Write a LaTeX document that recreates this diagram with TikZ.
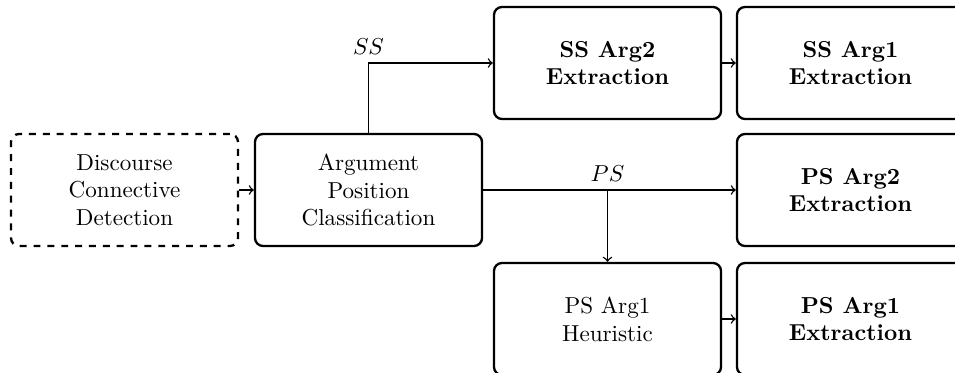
\documentclass[tikz,border=0pt]{standalone}
\begin{document}
\begin{tikzpicture}[x=0.4329pt,y=-0.4329pt,
  stage/.style={draw, line width=1pt, rounded corners=3.5pt, align=center,
    minimum width=98.3pt, minimum height=48.5pt, inner sep=2pt},
  optional/.style={stage, dashed},
  key/.style={stage, font=\bfseries},
  arr/.style={->, line width=0.6pt}]
  \useasboundingbox (0,0) rectangle (955,372);
  \clip (0,0) rectangle (955,372);

  % pipeline stages
  \node[optional] (det) at (124.5,190) {Discourse\\Connective\\Detection};
  \node[stage]    (apc) at (368.5,190) {Argument\\Position\\Classification};
  \node[key]      (ss2) at (607.5,63)  {SS Arg2\\Extraction};
  \node[key]      (ss1) at (850.5,63)  {SS Arg1\\Extraction};
  \node[key]      (ps2) at (850.5,190) {PS Arg2\\Extraction};
  \node[stage]    (heu) at (607.5,319) {PS Arg1\\Heuristic};
  \node[key]      (ps1) at (850.5,319) {PS Arg1\\Extraction};

  % branching points
  \coordinate (sscorner) at (apc.north |- ss2.west);
  \coordinate (psfork)   at (heu.north |- apc.east);

  % connectors
  \draw[arr] (det) -- (apc);
  \draw[arr] (apc.north) -- (sscorner) -- (ss2.west);
  \node[above] (sslabel) at (sscorner) {$SS$};
  \draw[arr] (apc) -- (ps2);
  \node[above] (pslabel) at (psfork) {$PS$};
  \draw[arr] (psfork) -- (heu.north);
  \draw[arr] (ss2) -- (ss1);
  \draw[arr] (heu) -- (ps1);
\end{tikzpicture}
\end{document}
